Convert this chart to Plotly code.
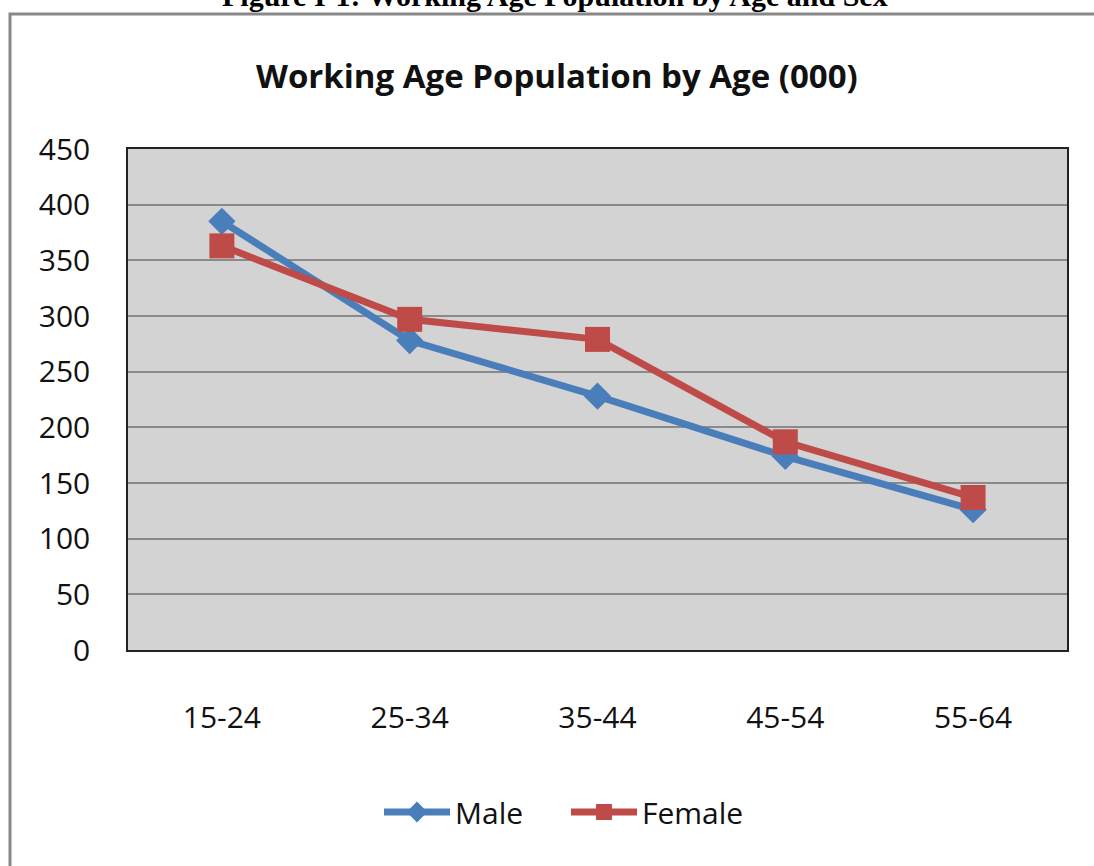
import plotly.graph_objects as go

categories = ["15-24", "25-34", "35-44", "45-54", "55-64"]
male = [385, 278, 228, 174, 126]
female = [363, 297, 279, 187, 137]
y_ticks = [0, 50, 100, 150, 200, 250, 300, 350, 400, 450]

W, H = 1094, 866
L, R, T, B = 128, 1067, 149, 650

def px_x(x):
    return (x - L) / (R - L)

def px_y(y):
    return (B - y) / (B - T)

fig = go.Figure()
fig.add_trace(go.Scatter(
    x=categories, y=male, name="Male", mode="lines+markers",
    line=dict(color="#4a7ebb", width=7),
    marker=dict(symbol="diamond", size=21, color="#4a7ebb"),
))
fig.add_trace(go.Scatter(
    x=categories, y=female, name="Female", mode="lines+markers",
    line=dict(color="#be4b48", width=7),
    marker=dict(symbol="square", size=25, color="#be4b48"),
))

fig.update_layout(
    width=W, height=H,
    margin=dict(l=L, r=W - R, t=T, b=H - B, pad=0),
    paper_bgcolor="white",
    plot_bgcolor="#d3d3d3",
    font=dict(family="Open Sans, sans-serif", color="#111111"),
    showlegend=True,
    legend=dict(
        orientation="h", x=px_x(566), xanchor="center", y=px_y(812), yanchor="middle",
        font=dict(size=30, color="#111111"), bgcolor="rgba(0,0,0,0)",
        itemwidth=66, entrywidth=106, tracegroupgap=0,
    ),
    xaxis=dict(
        type="category", range=[-0.5, 4.5], showgrid=False, zeroline=False,
        tickfont=dict(size=30, color="#111111"), ticks="", ticklabelstandoff=40,
        showline=True, linecolor="#222222", linewidth=1.5, mirror=True,
    ),
    yaxis=dict(
        range=[0, 450], tickvals=y_ticks, ticktext=[str(v) for v in y_ticks],
        showgrid=True, gridcolor="#8a8a8a", gridwidth=2, zeroline=False,
        tickfont=dict(size=30, color="#111111"), ticks="", ticklabelstandoff=30,
        showline=True, linecolor="#222222", linewidth=1.5, mirror=True,
    ),
    annotations=[
        dict(text="<b>Working Age Population by Age (000)</b>", xref="paper", yref="paper",
             x=px_x(557), y=px_y(75), xanchor="center", yanchor="middle", showarrow=False,
             font=dict(family="Open Sans, sans-serif", size=33, color="#111111")),
        dict(text="<b>Figure I-1: Working Age Population by Age and Sex</b>", xref="paper", yref="paper",
             x=px_x(555), y=px_y(-4), xanchor="center", yanchor="middle", showarrow=False,
             font=dict(family="Liberation Serif, serif", size=30, color="#000000")),
    ],
    shapes=[
        dict(type="rect", xref="paper", yref="paper",
             x0=px_x(10), x1=px_x(1105), y0=px_y(880), y1=px_y(14),
             line=dict(color="#888888", width=3), fillcolor="rgba(0,0,0,0)", layer="below"),
    ],
)

fig.write_html(
    "out.html",
    config={"displayModeBar": False},
    post_script="document.body.style.margin='0';document.body.style.overflow='hidden';",
)
